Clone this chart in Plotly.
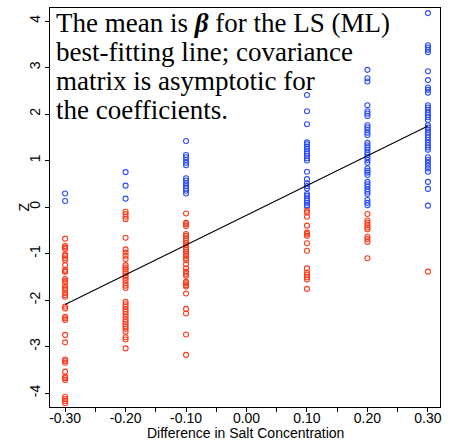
import numpy as np
import plotly.graph_objects as go

# Salt concentration differences (x positions of the columns)
salt_diff = [-0.30, -0.20, -0.10, 0.10, 0.20, 0.30]

# Z values read from each column
z_m030 = [0.29, 0.13, -0.68, -0.84, -0.87, -0.90, -1.02, -1.05, -1.10, -1.14, -1.25,
          -1.35, -1.38, -1.39, -1.55, -1.59, -1.62, -1.71, -1.75, -1.78, -1.85, -1.89,
          -1.93, -2.14, -2.18, -2.36, -2.39, -2.43, -2.75, -2.91, -3.28, -3.31, -3.35,
          -3.54, -3.65, -3.68, -3.72, -4.08, -4.13, -4.17, -4.22]
z_m020 = [0.75, 0.46, 0.18, -0.10, -0.15, -0.21, -0.26, -0.66, -0.91, -0.98, -1.05,
          -1.12, -1.25, -1.30, -1.34, -1.38, -1.43, -1.48, -1.52, -1.57, -1.64, -1.69,
          -1.74, -2.04, -2.09, -2.14, -2.20, -2.25, -2.30, -2.36, -2.42, -2.47, -2.52,
          -2.57, -2.62, -2.68, -2.80, -2.85, -3.04]
z_m010 = [1.42, 1.12, 1.07, 1.01, 0.95, 0.90, 0.62, 0.57, 0.51, 0.45, 0.40, 0.35, 0.29,
          -0.14, -0.34, -0.37, -0.41, -0.58, -0.62, -0.67, -0.72, -0.77, -0.82, -0.87,
          -0.91, -0.96, -1.01, -1.05, -1.10, -1.14, -1.23, -1.32, -1.39, -1.44, -1.48,
          -1.61, -1.64, -1.68, -1.71, -1.86, -2.19, -2.29, -2.74, -3.18]
z_p010 = [2.41, 2.06, 1.78, 1.39, 1.35, 1.30, 1.25, 1.20, 1.15, 1.10, 1.05, 1.00, 0.76,
          0.60, 0.51, 0.45, 0.40, 0.28, 0.24, 0.19, 0.14, 0.09, 0.04, 0.01, -0.08, -0.12,
          -0.21, -0.40, -0.55, -0.58, -0.62, -0.78, -0.94, -1.32, -1.41, -1.46, -1.51,
          -1.56, -1.76]
z_p020 = [2.95, 2.77, 2.70, 2.19, 2.06, 2.01, 1.96, 1.76, 1.71, 1.66, 1.60, 1.55, 1.38,
          1.33, 1.28, 1.23, 1.17, 1.12, 1.07, 1.01, 0.95, 0.83, 0.78, 0.74, 0.69, 0.54,
          0.49, 0.44, 0.38, 0.33, 0.28, 0.15, 0.09, 0.04, -0.15, -0.29, -0.34, -0.39,
          -0.44, -0.48, -0.64, -0.69, -0.75, -1.10]
z_p030 = [4.17, 3.48, 3.43, 3.38, 3.33, 2.92, 2.73, 2.57, 2.52, 2.46, 2.19, 2.14, 2.09,
          2.03, 1.98, 1.93, 1.87, 1.76, 1.71, 1.66, 1.60, 1.55, 1.50, 1.44, 1.38, 1.33,
          1.28, 1.23, 1.07, 1.01, 0.95, 0.89, 0.83, 0.76, 0.54, 0.39, 0.03, -1.39]

# LS best-fitting line coefficients (intercept, slope)
beta = [-0.175, 6.4]
line_x = [-0.30, 0.30]

# Tick labels
x_tickvals = [-0.30, -0.25, -0.20, -0.15, -0.10, -0.05, 0.00, 0.05, 0.10, 0.15, 0.20, 0.25, 0.30]
x_ticktext = ["-0.30", "", "-0.20", "", "-0.10", "", "0.00", "", "0.10", "", "0.20", "", "0.30"]
y_tickvals = [-4, -3, -2, -1, 0, 1, 2, 3, 4]
y_ticktext = ["-4", "-3", "-2", "-1", "0", "1", "2", "3", "4"]

# Annotation lines
note_lines = ["The mean is <b><i>β</i></b> for the LS (ML)",
              "best-fitting line; covariance",
              "matrix is asymptotic for",
              "the coefficients."]

BLUE = "#2a4cff"
RED = "#ff3a1a"

columns = [z_m030, z_m020, z_m010, z_p010, z_p020, z_p030]
xs, zs = [], []
for xv, col in zip(salt_diff, columns):
    xs += [xv] * len(col)
    zs += col
xs = np.array(xs)
zs = np.array(zs)

fig = go.Figure()
pos = zs > 0
fig.add_trace(go.Scatter(x=xs[pos], y=zs[pos], mode="markers",
                         marker=dict(symbol="circle-open", size=5, color=BLUE,
                                     line=dict(width=1.1, color=BLUE)),
                         showlegend=False, hoverinfo="skip"))
fig.add_trace(go.Scatter(x=xs[~pos], y=zs[~pos], mode="markers",
                         marker=dict(symbol="circle-open", size=5, color=RED,
                                     line=dict(width=1.1, color=RED)),
                         showlegend=False, hoverinfo="skip"))
lx = np.array(line_x)
fig.add_trace(go.Scatter(x=lx, y=beta[0] + beta[1] * lx, mode="lines",
                         line=dict(color="black", width=1.1),
                         showlegend=False, hoverinfo="skip"))

for i, t in enumerate(note_lines):
    fig.add_annotation(
        x=0, y=1, xref="paper", yref="paper", xanchor="left", yanchor="middle",
        xshift=4, yshift=-15 - 29 * i,
        align="left", showarrow=False, text=t,
        font=dict(family="Liberation Serif, serif", size=27, color="black"),
    )

fig.add_annotation(
    x=0.5, y=0, xref="paper", yref="paper", xanchor="center", yanchor="middle",
    yshift=-26, showarrow=False, text="Difference in Salt Concentration",
    font=dict(family="Liberation Sans, Arial, sans-serif", size=14, color="black"),
)
fig.add_annotation(
    x=0, y=0.5, xref="paper", yref="paper", xanchor="center", yanchor="middle",
    xshift=-27, textangle=-90, showarrow=False, text="Z",
    font=dict(family="Liberation Sans, Arial, sans-serif", size=14, color="black"),
)

fig.update_layout(
    template="none",
    width=451, height=441,
    margin=dict(l=50, r=11, t=8, b=34, autoexpand=False),
    paper_bgcolor="white", plot_bgcolor="white",
    font=dict(family="Liberation Sans, Arial, sans-serif", color="black"),
    xaxis=dict(range=[-0.325, 0.32], tickvals=x_tickvals, ticktext=x_ticktext,
               automargin=False, ticklabelstandoff=-6,
               ticks="outside", ticklen=4, tickcolor="black", showgrid=False,
               zeroline=False, showline=True, linecolor="black", linewidth=1,
               mirror=True, tickfont=dict(size=14)),
    yaxis=dict(range=[-4.30, 4.28], tickvals=y_tickvals, ticktext=y_ticktext,
               automargin=False, ticklabelstandoff=-1,
               tickangle=-90, ticks="outside", ticklen=4, tickcolor="black",
               showgrid=False, zeroline=False, showline=True, linecolor="black",
               linewidth=1, mirror=True, tickfont=dict(size=14)),
)

fig.write_html("out.html", config={"displayModeBar": False},
               post_script="document.body.style.margin='0';document.body.style.overflow='hidden';")
